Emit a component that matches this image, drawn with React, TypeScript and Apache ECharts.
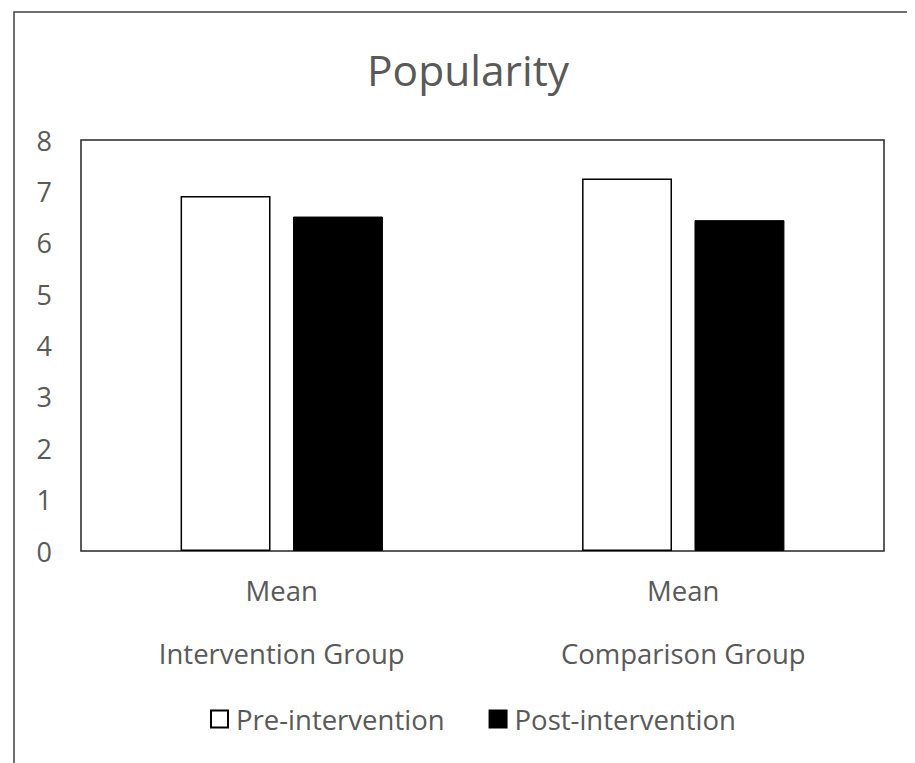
import React, { useEffect, useRef } from "react";
import * as echarts from "echarts";

const title = "Popularity";
const categories = ["Intervention Group", "Comparison Group"];
const subLabels = ["Mean", "Mean"];
const seriesNames = ["Pre-intervention", "Post-intervention"];
const preValues = [6.91, 7.25];
const postValues = [6.51, 6.44];
const yMin = 0;
const yMax = 8;
const yInterval = 1;

const FONT = "'Open Sans', 'Noto Sans', sans-serif";
const TEXT = "#595959";

export default function App() {
  const ref = useRef<HTMLDivElement>(null);
  useEffect(() => {
    if (!ref.current) return;
    const chart = echarts.init(ref.current, undefined, { renderer: "svg" });
    chart.setOption({
      animation: false,
      backgroundColor: "#ffffff",
      title: {
        text: title,
        left: 354,
        top: 35,
        textStyle: { fontFamily: FONT, fontSize: 42.5, fontWeight: "normal", color: TEXT },
      },
      graphic: [
        {
          type: "rect",
          shape: { x: 6, y: 4, width: 3000, height: 3000 },
          style: { fill: "none", stroke: "#404040", lineWidth: 1.5 },
          silent: true,
        },
      ],
      grid: {
        left: 73,
        top: 132,
        width: 803,
        height: 411,
        show: true,
        borderColor: "#262626",
        borderWidth: 1.5,
        backgroundColor: "transparent",
      },
      legend: {
        data: seriesNames,
        left: 197,
        top: 692,
        icon: "rect",
        itemWidth: 17,
        itemHeight: 17,
        itemGap: 44,
        textStyle: { fontFamily: FONT, fontSize: 27.5, color: TEXT, padding: [0, 0, 0, 3] },
      },
      xAxis: {
        type: "category",
        data: categories,
        axisLine: { show: false },
        axisTick: { show: false },
        axisLabel: {
          fontFamily: FONT,
          fontSize: 27.5,
          color: TEXT,
          margin: 8,
          lineHeight: 63,
          formatter: (v: string, i: number) => `${subLabels[i]}\n${v}`,
        },
        splitLine: { show: false },
      },
      yAxis: {
        type: "value",
        min: yMin,
        max: yMax,
        interval: yInterval,
        axisLine: { show: false },
        axisTick: { show: false },
        splitLine: { show: false },
        axisLabel: { fontFamily: FONT, fontSize: 27, color: TEXT, margin: 29 },
      },
      series: [
        {
          name: seriesNames[0],
          type: "bar",
          data: preValues,
          barWidth: "22.4%",
          barGap: "25%",
          itemStyle: { color: "#ffffff", borderColor: "#000000", borderWidth: 1.5 },
        },
        {
          name: seriesNames[1],
          type: "bar",
          data: postValues,
          barWidth: "22.4%",
          itemStyle: { color: "#000000", borderColor: "#000000", borderWidth: 1 },
        },
      ],
    });
    return () => chart.dispose();
  }, []);
  return <div ref={ref} style={{ width: 907, height: 755 }} />;
}
